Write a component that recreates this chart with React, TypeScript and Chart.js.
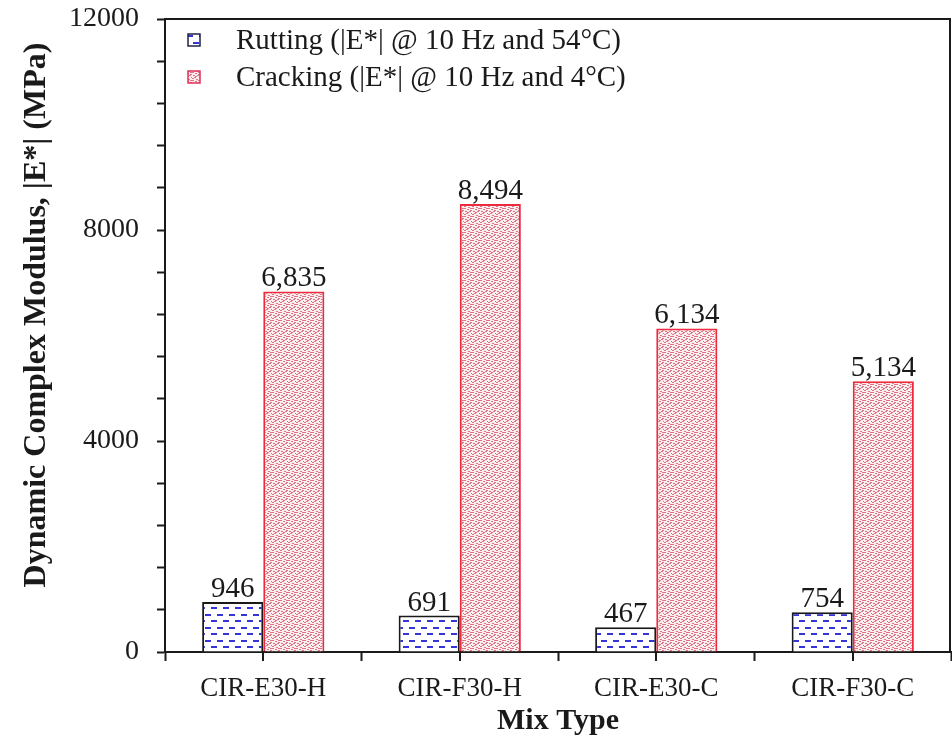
import { useEffect, useRef } from 'react';
import { Chart, registerables } from 'chart.js';

Chart.register(...registerables);

const mixTypes = ['CIR-E30-H', 'CIR-F30-H', 'CIR-E30-C', 'CIR-F30-C'];
const ruttingModulus = [946, 691, 467, 754];
const crackingModulus = [6835, 8494, 6134, 5134];
const seriesNames = ['Rutting (|E*| @ 10 Hz and 54°C)', 'Cracking (|E*| @ 10 Hz and 4°C)'];
const yLabelled = [0, 4000, 8000, 12000];
const yTitle = 'Dynamic Complex Modulus, |E*| (MPa)';
const xTitle = 'Mix Type';

const SERIF = '"Liberation Serif", "Times New Roman", serif';
const INK = '#1a1a1a';

// Blue dash hatch for the rutting bars
function makeDashPattern(ctx: CanvasRenderingContext2D) {
  const tile = document.createElement('canvas');
  tile.width = 12;
  tile.height = 13;
  const t = tile.getContext('2d')!;
  t.fillStyle = '#ffffff';
  t.fillRect(0, 0, 12, 13);
  t.fillStyle = '#3434d8';
  t.fillRect(1, 3, 6, 2);
  t.fillRect(7, 9, 6, 2);
  t.fillRect(-5, 9, 6, 2);
  return ctx.createPattern(tile, 'repeat')!;
}

// Speckled pink fill for the cracking bars
function makeSpecklePattern(ctx: CanvasRenderingContext2D) {
  const tile = document.createElement('canvas');
  tile.width = 8;
  tile.height = 8;
  const t = tile.getContext('2d')!;
  t.fillStyle = '#fbeef0';
  t.fillRect(0, 0, 8, 8);
  t.fillStyle = '#de7484';
  const dots = [
    [0, 0], [3, 1], [6, 0], [1, 3], [5, 3], [2, 5], [7, 5], [0, 6], [4, 7], [6, 2], [3, 4],
  ];
  dots.forEach(([x, y]) => t.fillRect(x, y, 2, 1));
  return ctx.createPattern(tile, 'repeat')!;
}

const fmt = (v: number) => v.toLocaleString('en-US');

export default function App() {
  const ref = useRef<HTMLCanvasElement | null>(null);

  useEffect(() => {
    document.body.style.margin = '0';
    const canvas = ref.current!;
    const ctx = canvas.getContext('2d')!;
    const dashFill = makeDashPattern(ctx);
    const speckleFill = makeSpecklePattern(ctx);

    const decorations = {
      id: 'decorations',
      afterDraw(chart: any) {
        const c = chart.ctx as CanvasRenderingContext2D;
        const { left, right, top, bottom } = chart.chartArea;
        const xs = chart.scales.x;
        c.save();

        // frame: top and right edges
        c.strokeStyle = INK;
        c.lineWidth = 2;
        c.beginPath();
        c.moveTo(left, top);
        c.lineTo(right - 1, top);
        c.lineTo(right - 1, bottom);
        c.stroke();

        // tick marks at category centres
        c.beginPath();
        mixTypes.forEach((_, i) => {
          const px = Math.round(xs.getPixelForValue(i));
          c.moveTo(px, bottom);
          c.lineTo(px, bottom + 9);
        });
        c.stroke();

        // value labels above the bars
        c.fillStyle = INK;
        c.font = `29px ${SERIF}`;
        c.textAlign = 'center';
        c.textBaseline = 'alphabetic';
        chart.data.datasets.forEach((ds: any, di: number) => {
          const meta = chart.getDatasetMeta(di);
          meta.data.forEach((bar: any, i: number) => {
            c.fillText(fmt(ds.data[i]), bar.x, bar.y - 5);
          });
        });

        // legend
        chart.data.datasets.forEach((ds: any, di: number) => {
          const cy = top + 21 + di * 37;
          c.fillStyle = ds.backgroundColor;
          c.fillRect(left + 23, cy - 6, 12, 12);
          c.lineWidth = 1.5;
          c.strokeStyle = di === 0 ? '#222244' : '#e0305a';
          c.strokeRect(left + 23, cy - 6, 12, 12);
          c.fillStyle = INK;
          c.font = `29px ${SERIF}`;
          c.textAlign = 'left';
          c.textBaseline = 'middle';
          c.fillText(ds.label, left + 71, cy + 1);
        });

        // axis titles
        c.font = `bold 30px ${SERIF}`;
        c.textAlign = 'center';
        c.textBaseline = 'middle';
        c.fillText(xTitle, (left + right) / 2, 721);
        c.font = `bold 32px ${SERIF}`;
        c.save();
        c.translate(37, 315);
        c.rotate(-Math.PI / 2);
        c.fillText(yTitle, 0, 0);
        c.restore();

        c.restore();
      },
    };

    const chart = new Chart(canvas, {
      type: 'bar',
      data: {
        labels: mixTypes,
        datasets: [
          {
            label: seriesNames[0],
            data: ruttingModulus,
            backgroundColor: dashFill as any,
            borderColor: '#1a1a1a',
            borderWidth: 2,
          },
          {
            label: seriesNames[1],
            data: crackingModulus,
            backgroundColor: speckleFill as any,
            borderColor: '#ee2a3c',
            borderWidth: 2,
          },
        ],
      },
      options: {
        animation: false,
        responsive: true,
        maintainAspectRatio: false,
        layout: { padding: { top: 19, right: 1, left: 0, bottom: 0 } },
        plugins: {
          legend: { display: false },
          tooltip: { enabled: false },
        },
        datasets: {
          bar: { barPercentage: 1, categoryPercentage: 0.622 },
        },
        scales: {
          x: {
            afterFit: (s: any) => {
              s.height = 87;
              s.paddingLeft = 0;
              s.paddingRight = 0;
            },
            grid: {
              offset: true,
              drawOnChartArea: false,
              tickLength: 9,
              tickColor: INK,
              tickWidth: 2,
            },
            border: { color: INK, width: 2 },
            ticks: {
              color: INK,
              font: { family: SERIF, size: 27 },
              padding: 12,
            },
          },
          y: {
            min: 0,
            max: 12000,
            afterFit: (s: any) => {
              s.width = 165;
              s.paddingTop = 0;
              s.paddingBottom = 0;
            },
            grid: {
              drawOnChartArea: false,
              tickLength: 8,
              tickColor: INK,
              tickWidth: 2,
            },
            border: { color: INK, width: 2 },
            ticks: {
              stepSize: 800,
              autoSkip: false,
              color: INK,
              font: { family: SERIF, size: 28 },
              padding: 18,
              callback: (v: any) => (yLabelled.includes(Number(v)) ? String(v) : ''),
            },
          },
        },
      },
      plugins: [decorations],
    });

    return () => chart.destroy();
  }, []);

  return (
    <div style={{ width: 952, height: 739, position: 'relative', background: '#ffffff' }}>
      <canvas ref={ref} />
    </div>
  );
}
